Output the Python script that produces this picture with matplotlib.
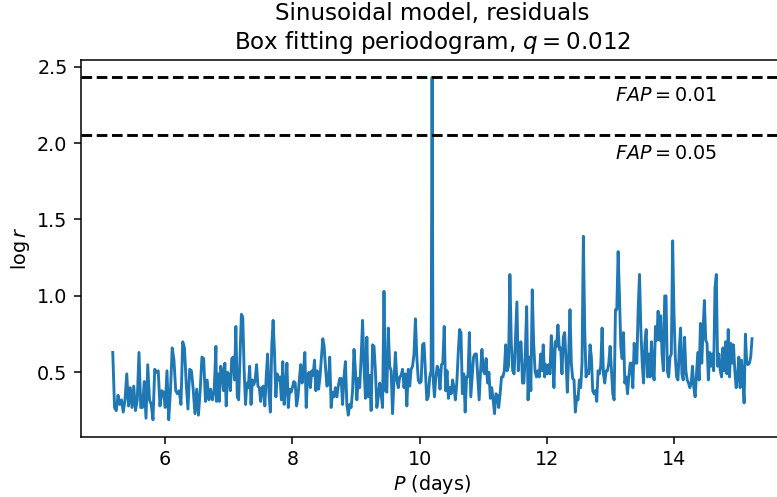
import numpy as np
import matplotlib
matplotlib.use('Agg')
import matplotlib.pyplot as plt

# log r, piece by piece along the period axis
# each piece: (first period, last period, values)
logr_a = [0.63, 0.27, 0.25, 0.35, 0.29, 0.32, 0.24, 0.32, 0.49, 0.28,
          0.40, 0.27, 0.41, 0.25, 0.32, 0.63, 0.27, 0.27, 0.44, 0.20,
          0.55, 0.32, 0.29, 0.19, 0.52, 0.50, 0.51, 0.28, 0.38, 0.37,
          0.27, 0.51, 0.19, 0.38, 0.66, 0.58, 0.38, 0.36, 0.38, 0.29,
          0.70, 0.66, 0.43, 0.26, 0.52, 0.51, 0.39, 0.23, 0.39, 0.22,
          0.38, 0.60, 0.59, 0.31, 0.45, 0.32, 0.39, 0.32, 0.38, 0.67]
logr_b = [0.31, 0.49, 0.31, 0.54, 0.51, 0.38, 0.56, 0.28, 0.50, 0.48,
          0.38, 0.59, 0.60, 0.45, 0.80, 0.34, 0.32, 0.60, 0.88, 0.86,
          0.51, 0.29, 0.43, 0.40, 0.54, 0.29, 0.45, 0.42, 0.45, 0.55,
          0.41, 0.40, 0.31, 0.40, 0.41, 0.28, 0.47, 0.62, 0.36, 0.24,
          0.67, 0.84, 0.63, 0.34, 0.49, 0.45, 0.47, 0.32, 0.57, 0.29,
          0.40, 0.56, 0.27, 0.39, 0.37, 0.40, 0.44, 0.43, 0.28, 0.34,
          0.45, 0.55, 0.43, 0.51, 0.63, 0.27, 0.48, 0.50, 0.40, 0.51,
          0.48, 0.58, 0.38, 0.51, 0.39, 0.47, 0.60, 0.72, 0.67]
logr_c = [0.54, 0.41, 0.42, 0.60, 0.27, 0.37, 0.34, 0.40, 0.34, 0.41,
          0.46, 0.46, 0.29, 0.47, 0.57, 0.29, 0.22, 0.29, 0.27, 0.38,
          0.65, 0.51, 0.32, 0.46, 0.40, 0.60, 0.84, 0.54, 0.33, 0.73,
          0.34, 0.48, 0.25, 0.68, 0.67, 0.51, 0.27, 0.34, 0.43, 0.36,
          0.27, 1.03, 0.38, 0.37, 0.79, 0.54, 0.51, 0.23, 0.45, 0.63,
          0.45, 0.40, 0.47, 0.48, 0.52, 0.40, 0.49, 0.28, 0.52, 0.41,
          0.52, 0.54, 0.62, 0.85, 0.60, 0.45, 0.43, 0.44, 0.68, 0.69,
          0.51, 0.32, 0.34, 0.47, 0.51]
logr_peak = [2.43]
logr_d = [0.47, 0.34, 0.47, 0.54, 0.51, 0.39, 0.55, 0.56, 0.80, 0.38,
          0.51, 0.33, 0.40, 0.36, 0.45, 0.40, 0.32, 0.43, 0.62, 0.78,
          0.76, 0.36, 0.49, 0.24, 0.47, 0.47, 0.76, 0.34, 0.47, 0.60,
          0.62, 0.62, 0.47, 0.32, 0.51, 0.65, 0.51, 0.49, 0.59, 0.43,
          0.50, 0.33, 0.40, 0.32, 0.23, 0.36, 0.35, 0.27, 0.36, 0.47,
          0.47, 0.51, 0.68, 0.51, 0.54, 1.14, 0.69, 0.51, 0.49, 0.72,
          0.96, 0.51, 0.69, 0.70, 0.43, 0.43, 0.62, 0.93, 0.32, 0.60,
          0.38, 1.04, 0.69, 0.51, 0.47, 0.51, 0.47, 0.62]
logr_e = [0.51, 0.68, 0.47, 0.55, 0.49, 0.55, 0.49, 0.74, 0.60, 0.40,
          0.70, 0.67, 0.81, 0.65, 0.66, 0.49, 0.73, 0.76, 0.58, 0.37,
          0.60, 0.91, 0.56, 0.46, 0.45, 0.24, 0.34, 0.32, 0.45, 0.40,
          0.56, 1.39, 0.78, 0.47, 0.51, 0.49, 0.68, 0.60, 0.38, 0.36,
          0.38, 0.31, 0.51, 0.49, 0.54, 0.79, 0.49, 0.43, 0.51, 0.51,
          0.56, 0.67, 0.51, 0.36, 0.32, 0.91, 0.91, 1.29, 1.00, 0.67,
          0.59, 0.76, 0.43, 0.47, 0.36, 0.47, 0.56, 0.56, 0.40, 0.69,
          0.56, 0.56, 0.92, 1.14, 0.78, 0.56, 0.43, 0.69, 0.78, 0.47,
          0.62]
logr_f = [0.47, 0.70, 0.51, 0.45, 0.80, 0.71, 0.90, 0.71, 0.87, 0.62,
          0.51, 1.00, 1.00, 0.51, 0.47, 0.60, 0.62, 1.36, 0.89, 0.60,
          0.47, 0.45, 0.65, 0.79, 0.49, 0.45, 0.73, 0.51, 0.45, 0.43,
          0.40, 0.43, 0.54, 0.40, 0.34, 0.49, 0.63, 0.45, 0.82, 0.56,
          0.78, 0.97, 0.71, 0.69, 0.45, 0.63, 0.54, 0.62, 0.51, 1.05,
          1.14, 0.54, 0.62, 0.51, 0.47, 0.66, 0.51, 0.70, 0.49, 0.78,
          0.47, 0.69, 0.56, 0.68, 0.51, 0.40, 0.47, 0.60, 0.40, 0.58,
          0.47, 0.30, 0.75, 0.56, 0.55, 0.56, 0.60, 0.72]

pieces = [(5.18, 6.80, logr_a), (6.81, 8.50, logr_b), (8.52, 10.18, logr_c),
          (10.195, 10.195, logr_peak), (10.21, 11.90, logr_d),
          (11.92, 13.60, logr_e), (13.62, 15.22, logr_f)]

fap_levels = [2.43, 2.05]
fap_labels = ['$FAP = 0.01$', '$FAP = 0.05$']

period = np.concatenate([np.linspace(a, b, len(v)) for a, b, v in pieces])
logr = np.concatenate([v for a, b, v in pieces])

dpi = 138
fig = plt.figure(figsize=(777 / dpi, 497 / dpi), dpi=dpi)
ax = fig.add_axes([0.104, 0.121, 0.905, 0.758])
ax.plot(period, logr, color='C0', lw=1.5)
for lev, lab in zip(fap_levels, fap_labels):
    ax.axhline(lev, color='k', ls='--', lw=1.5)
    ax.text(13.07, lev - 0.12, lab, va='center', ha='left')

ax.set_xlabel('$P$ (days)', labelpad=2)
ax.set_ylabel(r'$\log r$', labelpad=2.5)
ax.set_title('Sinusoidal model, residuals\nBox fitting periodogram, $q = 0.012$')

fig.savefig('out.png', dpi=dpi)
